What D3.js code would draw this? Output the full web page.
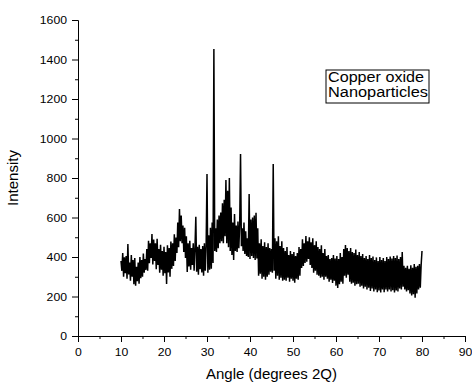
<!DOCTYPE html>
<html>
<head>
<meta charset="utf-8">
<script src="https://cdn.jsdelivr.net/npm/d3@7"></script>
<style>
  body { margin: 0; background: #fff; }
  text { font-family: Arial, "Liberation Sans", sans-serif; fill: #000; }
</style>
</head>
<body>
<script>
// XRD pattern, one value every 0.2 degrees from 10 to 80
const angleStart = 10, angleStep = 0.2;
const intensity = [
  380, 330, 420, 300, 398,   // 10
  318, 405, 290, 466, 312,   // 11
  372, 280, 410, 300, 385,   // 12
  262, 395, 255, 350, 278,   // 13
  372, 265, 400, 292, 385,   // 14
  300, 418, 320, 390, 335,   // 15
  440, 330, 482, 368, 470,   // 16
  395, 516, 362, 488, 380,   // 17
  470, 338, 492, 360, 440,   // 18
  320, 462, 335, 430, 305,   // 19
  452, 318, 425, 263, 460,   // 20
  322, 445, 300, 478, 340,   // 21
  470, 355, 515, 380, 498,   // 22
  420, 575, 450, 643, 480,   // 23
  610, 470, 560, 425, 548,   // 24
  395, 505, 324, 470, 352,   // 25
  482, 335, 445, 360, 470,   // 26
  330, 445, 604, 325, 452,   // 27
  310, 462, 338, 440, 322,   // 28
  455, 305, 470, 330, 455,   // 29
  820, 320, 510, 335, 548,   // 30
  340, 575, 370, 1453, 430,  // 31
  545, 425, 590, 445, 610,   // 32
  470, 625, 480, 672, 470,   // 33
  690, 505, 790, 470, 735,   // 34
  450, 800, 430, 650, 410,   // 35
  575, 385, 618, 430, 560,   // 36
  425, 580, 445, 560, 921,   // 37
  455, 545, 430, 575, 415,   // 38
  530, 405, 495, 400, 719,   // 39
  390, 590, 405, 600, 395,   // 40
  610, 385, 624, 392, 545,   // 41
  305, 470, 315, 490, 290,   // 42
  455, 300, 475, 285, 450,   // 43
  300, 470, 310, 445, 325,   // 44
  440, 320, 871, 330, 495,   // 45
  290, 480, 305, 505, 285,   // 46
  455, 295, 480, 280, 445,   // 47
  285, 430, 280, 450, 295,   // 48
  410, 275, 430, 290, 415,   // 49
  280, 425, 270, 405, 290,   // 50
  420, 285, 450, 305, 440,   // 51
  345, 490, 355, 470, 370,   // 52
  506, 376, 480, 390, 500,   // 53
  360, 475, 345, 495, 320,   // 54
  460, 330, 480, 310, 450,   // 55
  305, 440, 295, 460, 300,   // 56
  420, 285, 440, 300, 405,   // 57
  290, 410, 275, 390, 285,   // 58
  395, 268, 410, 280, 392,   // 59
  255, 405, 243, 390, 262,   // 60
  420, 275, 400, 265, 440,   // 61
  305, 461, 295, 445, 310,   // 62
  430, 275, 445, 265, 425,   // 63
  270, 420, 255, 438, 262,   // 64
  410, 265, 425, 250, 405,   // 65
  255, 415, 240, 395, 250,   // 66
  405, 235, 390, 245, 410,   // 67
  228, 395, 240, 402, 225,   // 68
  385, 235, 398, 222, 380,   // 69
  230, 400, 220, 385, 235,   // 70
  395, 222, 380, 235, 400,   // 71
  225, 390, 235, 402, 226,   // 72
  392, 232, 405, 220, 395,   // 73
  230, 408, 225, 390, 240,   // 74
  400, 235, 425, 250, 355,   // 75
  235, 345, 225, 355, 232,   // 76
  340, 215, 358, 205, 345,   // 77
  212, 365, 194, 350, 215,   // 78
  355, 235, 365, 245, 360,   // 79
  430                        // 80
];

const xTicks = [0, 10, 20, 30, 40, 50, 60, 70, 80, 90];
const xMinorTicks = [5, 15, 25, 35, 45, 55, 65, 75, 85];
const yTicks = [0, 200, 400, 600, 800, 1000, 1200, 1400, 1600];
const yMinorTicks = [100, 300, 500, 700, 900, 1100, 1300, 1500];
const legendLines = ["Copper oxide", "Nanoparticles"];
const legendWidths = [96, 100];

const margin = { top: 20, right: 7, bottom: 49, left: 78 },
    width = 472 - margin.left - margin.right,
    height = 385 - margin.top - margin.bottom;

const svg = d3.select("body")
    .append("svg")
    .attr("width", 472)
    .attr("height", 385);

const g = svg.append("g")
    .attr("transform", `translate(${margin.left},${margin.top})`);

const x = d3.scaleLinear().domain([0, 90]).range([0, width]);
const y = d3.scaleLinear().domain([0, 1600]).range([height, 0]);

// the labels in the picture are a bit wider than plain Arial
const widen = sel => sel
    .attr("font-size", 11)
    .attr("textLength", d => String(d).length * 6.8)
    .attr("lengthAdjust", "spacingAndGlyphs");

// minor ticks first, then the main axes on top
g.append("g")
    .attr("transform", `translate(0,${height})`)
    .call(d3.axisBottom(x).tickValues(xMinorTicks).tickSize(3).tickSizeOuter(0).tickFormat(""));
g.append("g")
    .call(d3.axisLeft(y).tickValues(yMinorTicks).tickSize(3).tickSizeOuter(0).tickFormat(""));

g.append("g")
    .attr("transform", `translate(0,${height})`)
    .call(d3.axisBottom(x).tickValues(xTicks).tickSize(6).tickSizeOuter(0).tickPadding(6).tickFormat(d3.format("d")))
    .call(a => a.selectAll("text").call(widen));

g.append("g")
    .call(d3.axisLeft(y).tickValues(yTicks).tickSize(6).tickSizeOuter(0).tickPadding(5).tickFormat(d3.format("d")))
    .call(a => a.selectAll("text").call(widen));

svg.selectAll(".domain, .tick line").attr("stroke", "#000");

// the pattern
const line = d3.line()
    .x((d, i) => x(angleStart + i * angleStep))
    .y(d => y(d));

g.append("path")
    .datum(intensity)
    .attr("fill", "none")
    .attr("stroke", "#000")
    .attr("stroke-width", 1.5)
    .attr("d", line);

// axis titles
svg.append("text")
    .attr("x", margin.left + x(45))
    .attr("y", 379)
    .attr("text-anchor", "middle")
    .attr("font-size", 14)
    .attr("textLength", 131)
    .attr("lengthAdjust", "spacingAndGlyphs")
    .text("Angle (degrees 2Q)");

svg.append("text")
    .attr("transform", `translate(18,${margin.top + height / 2}) rotate(-90)`)
    .attr("text-anchor", "middle")
    .attr("font-size", 14)
    .attr("textLength", 56)
    .attr("lengthAdjust", "spacingAndGlyphs")
    .text("Intensity");

// label box
const box = svg.append("g").attr("transform", "translate(326,70)");
box.append("rect")
    .attr("width", 103)
    .attr("height", 33)
    .attr("fill", "#fff")
    .attr("stroke", "#000");
box.selectAll("text.lbl")
    .data(legendLines)
    .join("text")
    .attr("class", "lbl")
    .attr("x", 2)
    .attr("y", (d, i) => 12 + i * 15)
    .attr("font-size", 14)
    .attr("textLength", (d, i) => legendWidths[i])
    .attr("lengthAdjust", "spacingAndGlyphs")
    .text(d => d);
</script>
</body>
</html>
